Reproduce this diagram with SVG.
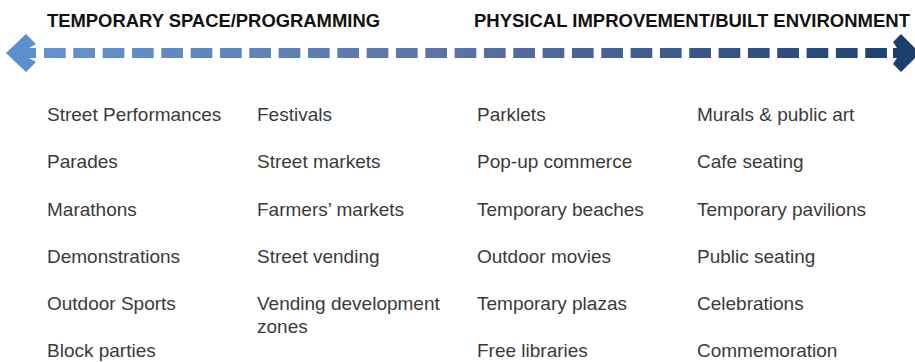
<svg xmlns="http://www.w3.org/2000/svg" width="915" height="362" viewBox="0 0 915 362">
  <defs>
    <linearGradient id="scale" x1="0" y1="0" x2="915" y2="0" gradientUnits="userSpaceOnUse">
      <stop offset="0" stop-color="#6496d2"/>
      <stop offset="0.5" stop-color="#5a72a6"/>
      <stop offset="1" stop-color="#1c3f6e"/>
    </linearGradient>
  </defs>
  <style>
    .head { font-family: "Liberation Sans", Arial, sans-serif; font-weight: bold; font-size: 18px; fill: #111111; }
    .item { font-family: "Liberation Sans", Arial, sans-serif; font-size: 19px; fill: #3a3a3a; }
  </style>
  <rect width="915" height="362" fill="#ffffff"/>

  <!-- headings at both ends of the spectrum -->
  <g id="headings">
    <text class="head" x="47" y="27" textLength="333" lengthAdjust="spacingAndGlyphs">TEMPORARY SPACE/PROGRAMMING</text>
    <text class="head" x="474" y="27" textLength="436" lengthAdjust="spacingAndGlyphs">PHYSICAL IMPROVEMENT/BUILT ENVIRONMENT</text>
  </g>

  <!-- double-headed dashed spectrum arrow -->
  <g id="connectors">
    <line x1="44" y1="53" x2="890" y2="53" stroke="url(#scale)" stroke-width="10" stroke-dasharray="21.7 7.63"/>
    <polygon points="6,53 26,34 36,44 29,48 36,48 36,58 29,58 36,62 26,72" fill="#5b8fd0"/>
    <polygon points="920,53 901,34 893,42 897,48 893,48 893,58 897,58 893,64 901,72" fill="#1c3f6e"/>
  </g>

  <!-- column 1 -->
  <g id="col-1">
    <text class="item" x="47" y="121">Street Performances</text>
    <text class="item" x="47" y="168">Parades</text>
    <text class="item" x="47" y="216">Marathons</text>
    <text class="item" x="47" y="263">Demonstrations</text>
    <text class="item" x="47" y="310">Outdoor Sports</text>
    <text class="item" x="47" y="357">Block parties</text>
  </g>

  <!-- column 2 -->
  <g id="col-2">
    <text class="item" x="257" y="121">Festivals</text>
    <text class="item" x="257" y="168">Street markets</text>
    <text class="item" x="257" y="216">Farmers’ markets</text>
    <text class="item" x="257" y="263">Street vending</text>
    <text class="item" x="257" y="310">Vending development</text>
    <text class="item" x="257" y="333">zones</text>
  </g>

  <!-- column 3 -->
  <g id="col-3">
    <text class="item" x="477" y="121">Parklets</text>
    <text class="item" x="477" y="168">Pop-up commerce</text>
    <text class="item" x="477" y="216">Temporary beaches</text>
    <text class="item" x="477" y="263">Outdoor movies</text>
    <text class="item" x="477" y="310">Temporary plazas</text>
    <text class="item" x="477" y="357">Free libraries</text>
  </g>

  <!-- column 4 -->
  <g id="col-4">
    <text class="item" x="697" y="121">Murals &amp; public art</text>
    <text class="item" x="697" y="168">Cafe seating</text>
    <text class="item" x="697" y="216">Temporary pavilions</text>
    <text class="item" x="697" y="263">Public seating</text>
    <text class="item" x="697" y="310">Celebrations</text>
    <text class="item" x="697" y="357">Commemoration</text>
  </g>
</svg>
